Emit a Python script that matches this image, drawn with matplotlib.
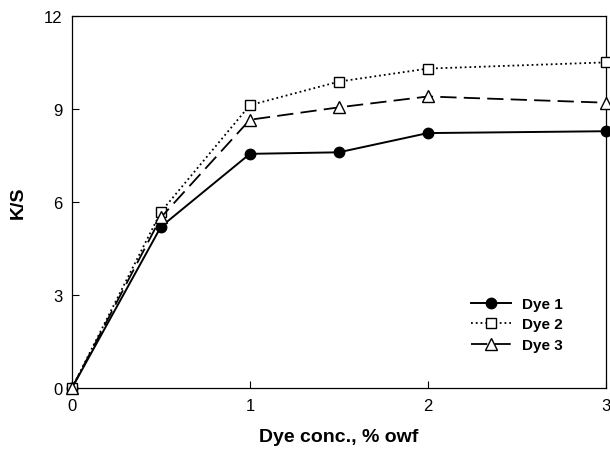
import matplotlib.pyplot as plt
import numpy as np

plt.rcParams['font.family'] = ['Liberation Sans', 'DejaVu Sans']

# Concentración del colorante (% owf) y valores K/S
conc = [0, 0.5, 1, 1.5, 2, 3]
dye1 = [0, 5.2, 7.55, 7.6, 8.22, 8.28]
dye2 = [0, 5.68, 9.12, 9.88, 10.3, 10.5]
dye3 = [0, 5.5, 8.65, 9.05, 9.4, 9.2]

fig = plt.figure(figsize=(6.1, 4.56), dpi=100)
ax = fig.add_axes([0.118, 0.147, 0.875, 0.816])

ax.plot(conc, dye1, '-', color='black', lw=1.4, marker='o', ms=7.5,
        mfc='black', mec='black', label='Dye 1', clip_on=False, zorder=3)
ax.plot(conc, dye2, ':', color='black', lw=1.3, marker='s', ms=7,
        mfc='white', mec='black', label='Dye 2', clip_on=False, zorder=3)
ax.plot(conc, dye3, color='black', lw=1.3, dashes=(9, 4), marker='^', ms=8,
        mfc='white', mec='black', label='Dye 3', clip_on=False, zorder=3)

ax.set_xlim(0, 3)
ax.set_ylim(0, 12)
ax.set_xticks([0, 1, 2, 3])
ax.set_yticks([0, 3, 6, 9, 12])
ax.tick_params(direction='in', labelsize=12, length=5, width=0.8,
               top=False, right=False, pad=7)
for s in ax.spines.values():
    s.set_linewidth(0.9)

ax.set_xlabel('Dye conc., % owf', fontsize=14, fontweight='bold', labelpad=11)
ax.set_ylabel('K/S', fontsize=14, fontweight='bold', labelpad=12)

leg = ax.legend(loc='lower right', bbox_to_anchor=(0.945, 0.06), frameon=False,
                prop={'weight': 'bold', 'size': 11}, handlelength=2.6,
                handletextpad=0.7, labelspacing=0.42)

fig.savefig('out.png', dpi=100)
